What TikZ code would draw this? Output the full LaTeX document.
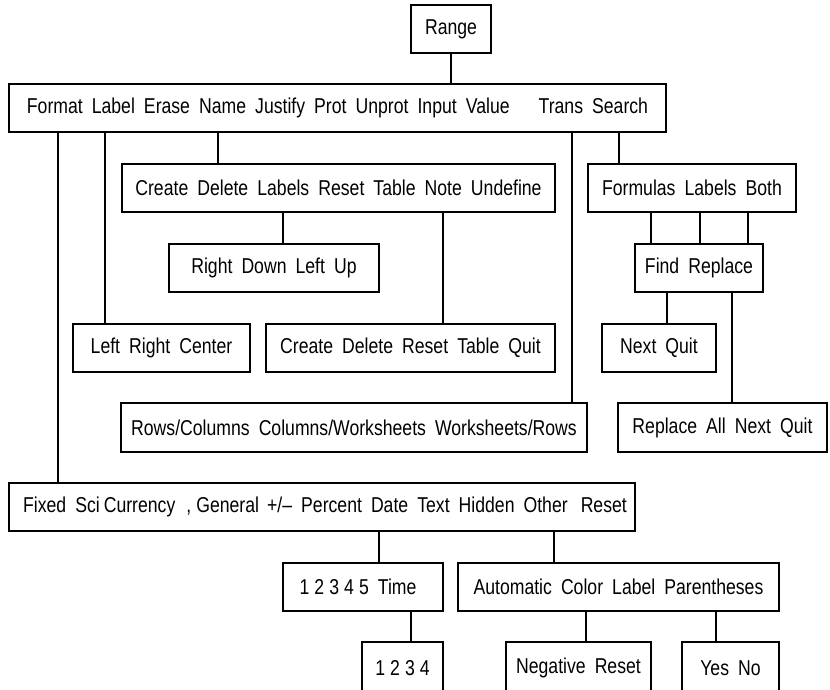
\documentclass[tikz,border=0pt]{standalone}
\usepackage{fontspec}
\newfontfamily\lab[FakeStretch=0.82,WordSpace=1.85]{Liberation Sans}
\begin{document}
\begin{tikzpicture}[x=1pt,y=-1pt,
  box/.style={draw, line width=1.4pt, inner sep=0pt, font=\lab\fontsize{21.5}{24}\selectfont},
  conn/.style={line width=1.3pt}]
\useasboundingbox (0,0) rectangle (830,690);
\clip (0,0) rectangle (830,690);
% nodes
\node[box, minimum width=80, minimum height=48] (range) at (451,29) {Range};
\node[box, minimum width=657, minimum height=48] (menu) at (337.5,108) {Format Label Erase Name Justify Prot Unprot Input Value\hspace{20pt} Trans Search};
\node[box, minimum width=433, minimum height=48] (create) at (338.5,188) {Create Delete Labels Reset Table Note Undefine};
\node[box, minimum width=208, minimum height=48] (formulas) at (692,188) {Formulas Labels Both};
\node[box, minimum width=210, minimum height=48] (rdlu) at (274,268) {Right Down Left Up};
\node[box, minimum width=128, minimum height=48] (find) at (699,268) {Find Replace};
\node[box, minimum width=177, minimum height=48] (lrc) at (161.5,348) {Left Right Center};
\node[box, minimum width=289, minimum height=48] (cdrtq) at (410.5,348) {Create Delete Reset Table Quit};
\node[box, minimum width=114, minimum height=48] (nextquit) at (659,348) {Next Quit};
\node[box, minimum width=466, minimum height=49] (rows) at (354,427.5) {Rows/Columns Columns/Worksheets Worksheets/Rows};
\node[box, minimum width=209, minimum height=49] (replall) at (722.5,427.5) {Replace All Next Quit};
\node[box, minimum width=626, minimum height=48] (fixed) at (322,507) {\hspace{6pt}Fixed Sci\hspace{-5pt} Currency\hspace{2pt} ,\hspace{-4pt} General\hspace{-1pt} +/– Percent Date Text Hidden Other\hspace{4pt} Reset};
\node[box, minimum width=160, minimum height=48] (time) at (363,587) {\hspace{-10pt}1\hspace{-4pt} 2\hspace{-4pt} 3\hspace{-4pt} 4\hspace{-4pt} 5 Time};
\node[box, minimum width=321, minimum height=48] (auto) at (618.5,587) {Automatic Color Label Parentheses};
\node[box, minimum width=81, minimum height=52] (n1234) at (402.5,668) {1\hspace{-4pt} 2\hspace{-4pt} 3\hspace{-4pt} 4};
\node[box, minimum width=145, minimum height=52] (neg) at (578.5,668) {Negative Reset};
\node[box, minimum width=97, minimum height=52] (yesno) at (730.5,668) {Yes No};
% helper x positions
\coordinate (xa) at (58,0);
\coordinate (xb) at (105,0);
\coordinate (xc) at (218,0);
\coordinate (xd) at (572,0);
\coordinate (xe) at (619,0);
\coordinate (xf) at (283,0);
\coordinate (xg) at (443,0);
\coordinate (xh) at (651,0);
\coordinate (xi) at (700,0);
\coordinate (xj) at (748,0);
\coordinate (xk) at (667,0);
\coordinate (xl) at (732,0);
\coordinate (xm) at (379,0);
\coordinate (xn) at (554,0);
\coordinate (xo) at (411,0);
\coordinate (xp) at (586,0);
\coordinate (xq) at (716,0);
% connectors
\draw[conn] (range.south) -- (range.south |- menu.north);
\draw[conn] (xa |- menu.south) -- (xa |- fixed.north);
\draw[conn] (xb |- menu.south) -- (xb |- lrc.north);
\draw[conn] (xc |- menu.south) -- (xc |- create.north);
\draw[conn] (xd |- menu.south) -- (xd |- rows.north);
\draw[conn] (xe |- menu.south) -- (xe |- formulas.north);
\draw[conn] (xf |- create.south) -- (xf |- rdlu.north);
\draw[conn] (xg |- create.south) -- (xg |- cdrtq.north);
\draw[conn] (xh |- formulas.south) -- (xh |- find.north);
\draw[conn] (xi |- formulas.south) -- (xi |- find.north);
\draw[conn] (xj |- formulas.south) -- (xj |- find.north);
\draw[conn] (xk |- find.south) -- (xk |- nextquit.north);
\draw[conn] (xl |- find.south) -- (xl |- replall.north);
\draw[conn] (xm |- fixed.south) -- (xm |- time.north);
\draw[conn] (xn |- fixed.south) -- (xn |- auto.north);
\draw[conn] (xo |- time.south) -- (xo |- n1234.north);
\draw[conn] (xp |- auto.south) -- (xp |- neg.north);
\draw[conn] (xq |- auto.south) -- (xq |- yesno.north);
\end{tikzpicture}
\end{document}
